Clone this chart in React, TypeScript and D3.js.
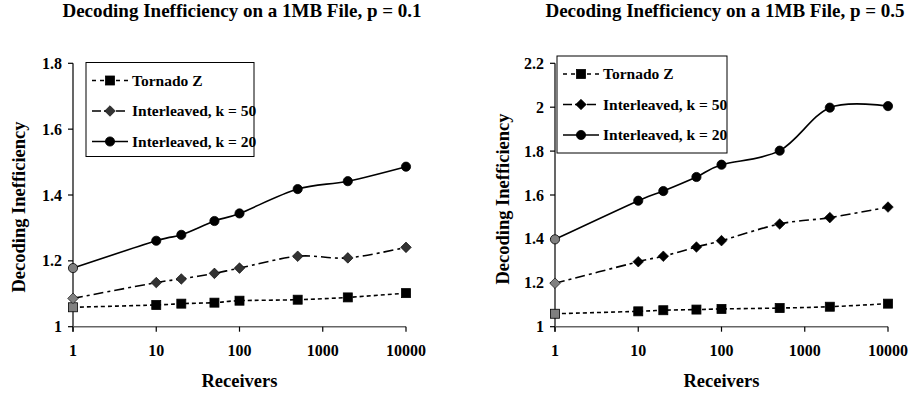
import * as d3 from "d3";

const receivers = [1, 10, 20, 50, 100, 500, 2000, 10000];
const xTicks = [1, 10, 100, 1000, 10000];
const seriesNames = ["Tornado Z", "Interleaved, k = 50", "Interleaved, k = 20"];

// p = 0.1
const tornadoP01 = [1.059, 1.066, 1.07, 1.073, 1.079, 1.082, 1.089, 1.102];
const k50P01 = [1.086, 1.134, 1.145, 1.162, 1.178, 1.214, 1.209, 1.241];
const k20P01 = [1.178, 1.261, 1.279, 1.321, 1.344, 1.418, 1.442, 1.486];
const yTicksP01 = [1, 1.2, 1.4, 1.6, 1.8];

// p = 0.5
const tornadoP05 = [1.059, 1.07, 1.075, 1.078, 1.081, 1.085, 1.091, 1.105];
const k50P05 = [1.198, 1.296, 1.321, 1.363, 1.392, 1.468, 1.497, 1.545];
const k20P05 = [1.398, 1.574, 1.618, 1.682, 1.738, 1.802, 1.998, 2.005];
const yTicksP05 = [1, 1.2, 1.4, 1.6, 1.8, 2, 2.2];

const font = '"Liberation Serif", "DejaVu Serif", serif';
const dashes = ["4,3", "10,4,3,4", null];
const legendDashes = ["4,4", "9,3", null];

function Marker({ kind, x, y, fill }) {
  if (kind === 0)
    return <rect x={x - 4.5} y={y - 4.5} width={9} height={9} fill={fill} stroke="#000" strokeWidth={0.8} />;
  if (kind === 1)
    return (
      <path
        d={d3.symbol(d3.symbolSquare, 56)()}
        transform={`translate(${x},${y}) rotate(45)`}
        fill={fill}
        stroke="#000"
        strokeWidth={0.6}
      />
    );
  return <circle cx={x} cy={y} r={4.6} fill={fill} stroke="#000" strokeWidth={0.8} />;
}

function Panel({ title, titleX, left, right, top, bottom, yMax, yTicks, series, diamondFill, legend, labelX, labelY }) {
  const x = d3.scaleLog().domain([1, 10000]).range([left, right]);
  const y = d3.scaleLinear().domain([1, yMax]).range([bottom, top]);
  const line = d3
    .line<number>()
    .x((_, i) => x(receivers[i]))
    .y((d) => y(d))
    .curve(d3.curveCardinal.tension(0));
  const fills = ["#000", diamondFill, "#000"];

  return (
    <g style={{ fontFamily: font, fontWeight: "bold" }}>
      <text x={titleX} y={17} textAnchor="middle" fontSize={19}>
        {title}
      </text>

      {/* axes */}
      <line x1={left} x2={left} y1={top} y2={bottom + 5} stroke="#000" strokeWidth={1.2} />
      <line x1={left} x2={right} y1={bottom} y2={bottom} stroke="#666" strokeWidth={1.4} />
      {yTicks.map((t) => (
        <g key={t}>
          <line x1={left - 5} x2={left} y1={y(t)} y2={y(t)} stroke="#000" strokeWidth={1.2} />
          <text x={left - 11} y={y(t) + 5.5} textAnchor="end" fontSize={16}>
            {String(+t.toFixed(1))}
          </text>
        </g>
      ))}
      {xTicks.map((t) => (
        <g key={t}>
          <line x1={x(t)} x2={x(t)} y1={bottom} y2={bottom + 5} stroke="#000" strokeWidth={1.2} />
          <text x={x(t)} y={356} textAnchor="middle" fontSize={16}>
            {t}
          </text>
        </g>
      ))}
      <text x={(left + right) / 2} y={387} textAnchor="middle" fontSize={18.5}>
        Receivers
      </text>
      <text transform={`translate(${labelX},${labelY}) rotate(-90)`} textAnchor="middle" fontSize={18.5}>
        Decoding Inefficiency
      </text>

      {/* series */}
      {series.map((vals, si) => (
        <g key={si}>
          <path
            d={line(vals)}
            fill="none"
            stroke="#000"
            strokeWidth={1.6}
            strokeDasharray={dashes[si] ?? undefined}
          />
          {vals.map((v, i) => (
            <Marker key={i} kind={si} x={x(receivers[i])} y={y(v)} fill={i === 0 ? "#808080" : fills[si]} />
          ))}
        </g>
      ))}

      {/* legend */}
      <rect x={legend.x} y={legend.y} width={legend.w} height={legend.h} fill="#fff" stroke="#000" strokeWidth={1} />
      {seriesNames.map((name, si) => {
        const ly = legend.y + 18 + si * 30.5;
        const lx = legend.x + 6;
        return (
          <g key={name}>
            <line
              x1={lx}
              x2={lx + 36}
              y1={ly}
              y2={ly}
              stroke="#000"
              strokeWidth={1.6}
              strokeDasharray={legendDashes[si] ?? undefined}
            />
            <Marker kind={si} x={lx + 18} y={ly} fill={fills[si]} />
            <text x={lx + 40} y={ly + 5} fontSize={15.5}>
              {name}
            </text>
          </g>
        );
      })}
    </g>
  );
}

export default function App() {
  return (
    <svg width={912} height={397} style={{ position: "absolute", left: 0, top: 0, background: "#fff" }}>
      <Panel
        title="Decoding Inefficiency on a 1MB File, p = 0.1"
        titleX={242}
        left={73}
        right={406}
        top={63.3}
        bottom={326.7}
        yMax={1.8}
        yTicks={yTicksP01}
        series={[tornadoP01, k50P01, k20P01]}
        diamondFill="#333"
        legend={{ x: 86, y: 62.5, w: 168, h: 94 }}
        labelX={25}
        labelY={207}
      />
      <Panel
        title="Decoding Inefficiency on a 1MB File, p = 0.5"
        titleX={725}
        left={555}
        right={888}
        top={63.3}
        bottom={326.7}
        yMax={2.2}
        yTicks={yTicksP05}
        series={[tornadoP05, k50P05, k20P05]}
        diamondFill="#000"
        legend={{ x: 557, y: 56, w: 170, h: 97 }}
        labelX={509}
        labelY={199}
      />
    </svg>
  );
}
